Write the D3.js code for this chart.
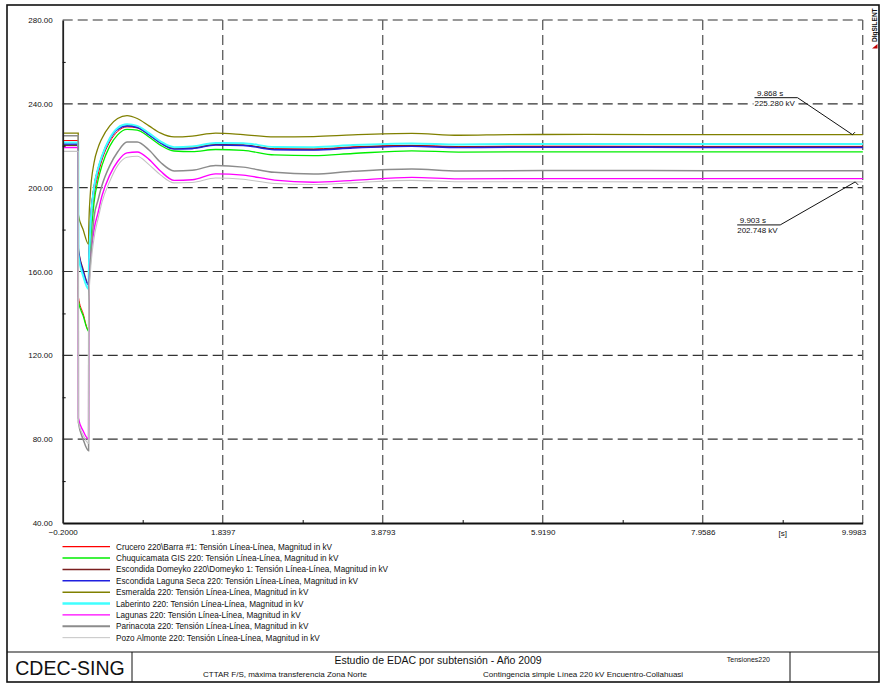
<!DOCTYPE html>
<html><head><meta charset="utf-8">
<script src="https://cdn.jsdelivr.net/npm/d3@7"></script>
<style>body{margin:0;background:#fff} svg{display:block} text{font-family:"Liberation Sans",Arial,sans-serif;fill:#111}</style>
</head><body><svg id="c" width="886" height="683"></svg>
<script>
// ---------------- data ----------------
const times = [-0.2, -0.002, 0.0, 0.06, 0.13, 0.132, 0.15, 0.2, 0.25, 0.3, 0.4, 0.5, 0.62, 0.75, 0.9, 1.05, 1.22, 1.45, 1.75, 2.1, 2.5, 3.0, 3.5, 4.25, 4.85, 5.5, 6.5, 8.0, 10.0];

const crucero     = [222.5,222.5,148,140,132,158,174,196,206,213,221.8,226.8,229,228.5,225.2,221.5,219,219.2,220.6,220.3,218.6,218.5,219.5,220.2,219.6,219.8,219.8,219.7,219.7];
const chuquicamata= [220.2,220.2,146,139,131.5,155,170,193,203.5,210.5,219.8,225.2,227.8,227.5,224.2,220.2,217.5,217.2,218.2,217.8,215.6,215.3,216.3,217.6,217.0,217.1,217.1,217.1,217.1];
const domeyko     = [220.3,220.3,171,161,154,161,181,200.5,209,215,223.3,228,229.6,228.9,225.4,221.4,218.7,218.9,220.6,220.4,218.4,218.2,219.2,220.0,219.4,219.6,219.6,219.5,219.5];
const lagunaSeca  = [220.8,220.8,170,160,153.5,160,180,200,208.5,214.5,223,227.8,229.4,228.7,225.2,221.2,218.4,218.6,220.3,220.1,218.1,217.9,218.9,219.7,219.1,219.3,219.3,219.2,219.2];
const esmeralda   = [226.0,226.0,187,180,173,180,196,212,219,223.5,229.5,233,234.4,233,229.5,226,224.2,224.6,226,225.3,224.2,224.4,225.2,225.9,225.0,225.3,225.4,225.3,225.28];
const laberinto   = [221.6,221.6,168,158,151.5,158,178,200,209,215,223.6,228.5,230.2,229.5,226,222,219.3,219.6,221.3,221.2,219.4,219.3,220.3,221.1,220.6,220.8,220.8,220.8,220.8];
const lagunas     = [219.2,219.2,90,84,80,150,163,180,188,196,206,212.5,216.6,217,213.5,207.8,203.5,203.8,206.6,206,203.6,202.6,203.5,204.9,204.2,204.3,204.3,204.3,204.3];
const parinacota  = [224.8,224.8,88,80,74.5,150,162,186,194,201,210.5,217,221.8,221.8,218,212,208,208.3,210.6,209.8,207.3,206.5,207.8,208.9,208.0,208.1,208.2,208.1,208.1];
const pozoAlmonte = [217.3,217.3,88,82,78,145,158,176,185,193,203,210.5,214.5,215,211,206,202.3,202.5,204.6,204,202,201.5,202.3,203.5,202.8,202.8,202.8,202.75,202.75];

const seriesNames = [
  "Crucero 220\\Barra #1: Tensión Línea-Línea, Magnitud in kV",
  "Chuquicamata GIS 220: Tensión Línea-Línea, Magnitud in kV",
  "Escondida Domeyko 220\\Domeyko 1: Tensión Línea-Línea, Magnitud in kV",
  "Escondida Laguna Seca 220: Tensión Línea-Línea, Magnitud in kV",
  "Esmeralda 220: Tensión Línea-Línea, Magnitud in kV",
  "Laberinto 220: Tensión Línea-Línea, Magnitud in kV",
  "Lagunas 220: Tensión Línea-Línea, Magnitud in kV",
  "Parinacota 220: Tensión Línea-Línea, Magnitud in kV",
  "Pozo Almonte 220: Tensión Línea-Línea, Magnitud in kV"
];
const seriesValues = [crucero, chuquicamata, domeyko, lagunaSeca, esmeralda, laberinto, lagunas, parinacota, pozoAlmonte];

const xTicks = [-0.2, 1.8397, 3.8793, 5.9190, 7.9586, 9.9983];
const yTicks = [40, 80, 120, 160, 200, 240, 280];
const yMinor = [60, 100, 140, 180, 220, 260];
const xUnit = "[s]";

const annotations = [
  {t: 9.868, v: 225.280, l1: "9.868 s", l2: "225.280 kV"},
  {t: 9.903, v: 202.748, l1: "9.903 s", l2: "202.748 kV"}
];

const footerTitle = "Estudio de EDAC por subtensión - Año 2009";
const footerLeft = "CDEC-SING";
const footerSub1 = "CTTAR F/S, máxima transferencia Zona Norte";
const footerSub2 = "Contingencia simple Línea 220 kV Encuentro-Collahuasi";
const footerRef = "Tensiones220";

// ---------------- styles ----------------
const colors = ["#ff0000","#00ee00","#7a1f1f","#1f1fe0","#808000","#40ffff","#ff00ff","#8c8c8c","#c4c4c4"];
const widths = [1, 1.3, 1.3, 1.4, 1.3, 2, 1.4, 1.5, 1.1];
const legendWidths = [1.2, 1.4, 1.4, 1.4, 1.4, 2.4, 1.4, 2, 1];

// ---------------- chart ----------------
const svg = d3.select("#c");
const L = 62.7, R = 862.7, T = 20, B = 523;
const x = d3.scaleLinear().domain([-0.2, 9.9983]).range([L, R]);
const y = d3.scaleLinear().domain([40, 280]).range([B, T]);

// outer frame
svg.append("rect").attr("x",7).attr("y",5).attr("width",872).attr("height",677)
  .attr("fill","none").attr("stroke","#111").attr("stroke-width",1.6);

// gridlines
svg.append("g").selectAll("line").data(yTicks.slice(1)).join("line")
  .attr("x1",L).attr("x2",R).attr("y1",d=>y(d)).attr("y2",d=>y(d))
  .attr("stroke","#333").attr("stroke-width",1.2).attr("stroke-dasharray","10,5");
svg.append("g").selectAll("line").data(xTicks.slice(1)).join("line")
  .attr("x1",d=>x(d)).attr("x2",d=>x(d)).attr("y1",T).attr("y2",B)
  .attr("stroke","#666").attr("stroke-width",1.4).attr("stroke-dasharray","10,5");

// series
svg.append("clipPath").attr("id","pc").append("rect")
  .attr("x",L).attr("y",T).attr("width",R-L+1).attr("height",B-T);
const line = d3.line().x((d,i)=>x(times[i])).y(d=>y(d)).curve(d3.curveMonotoneX);
svg.append("g").attr("clip-path","url(#pc)").selectAll("path").data(seriesValues).join("path")
  .attr("d", d=>line(d)).attr("fill","none")
  .attr("stroke",(d,i)=>colors[i]).attr("stroke-width",(d,i)=>widths[i]);

// axes
const xAxis = svg.append("g").attr("transform",`translate(0,${B})`)
  .call(d3.axisBottom(x).tickValues(xTicks).tickSize(0).tickPadding(6).tickFormat(d3.format(".4f")));
xAxis.select(".domain").attr("stroke","#111").attr("stroke-width",1.8);
xAxis.selectAll("text").attr("font-size",8).attr("font-family",'"Liberation Sans",Arial,sans-serif').attr("fill","#111");
xAxis.selectAll(".tick").filter(d=>d===xTicks[xTicks.length-1]).select("text").attr("text-anchor","end").attr("dx",3);
const xMinor = d3.pairs(xTicks).map(p=>(p[0]+p[1])/2);
svg.append("g").attr("transform",`translate(0,${B})`)
  .call(d3.axisTop(x).tickValues(xMinor).tickSize(3).tickFormat(""))
  .call(g=>g.select(".domain").remove())
  .selectAll("line").attr("stroke","#111").attr("stroke-width",1);
svg.append("text").attr("x",x(xMinor[xMinor.length-1])).attr("y",B+13).attr("text-anchor","middle")
  .attr("font-size",8).text(xUnit);

const yAxis = svg.append("g").attr("transform",`translate(${L},0)`)
  .call(d3.axisLeft(y).tickValues(yTicks).tickSize(0).tickPadding(10).tickFormat(d3.format(".2f")));
yAxis.select(".domain").attr("stroke","#222").attr("stroke-width",1.8);
yAxis.selectAll("text").attr("font-size",8).attr("font-family",'"Liberation Sans",Arial,sans-serif').attr("fill","#111");
svg.append("g").attr("transform",`translate(${L},0)`)
  .call(d3.axisRight(y).tickValues(yMinor).tickSize(3).tickFormat(""))
  .call(g=>g.select(".domain").remove())
  .selectAll("line").attr("stroke","#111").attr("stroke-width",1);

// annotations
const annLayout = [{dx:-55, dy:-37, w:43, hx:2.5, hy:-2.5}, {dx:-75, dy:43, w:43, hx:3, hy:3}];
annotations.forEach((a,i)=>{
  const px = x(a.t), py = y(a.v), o = annLayout[i];
  const ex = px + o.dx, ey = py + o.dy;
  const g = svg.append("g");
  g.append("rect").attr("x",ex-o.w-1).attr("y",ey-9).attr("width",o.w+2).attr("height",19).attr("fill","#fff");
  g.append("path").attr("d",`M${ex-o.w},${ey}H${ex}L${px},${py}l${o.hx},${o.hy}`)
    .attr("fill","none").attr("stroke","#111").attr("stroke-width",1);
  g.append("text").attr("x",ex-o.w+2.5).attr("y",ey-1.5).attr("font-size",8).text(a.l1);
  g.append("text").attr("x",ex-o.w).attr("y",ey+8.5).attr("font-size",8).text(a.l2);
});

// DIgSILENT mark
svg.append("text").attr("transform","translate(877.3,42) rotate(-90)").attr("font-size",6.5)
  .attr("font-weight","bold").text("DIgSILENT");
svg.append("path").attr("d","M872,48.5L877.5,44L877.5,48.5Z").attr("fill","#c00000");

// legend
const lg = svg.append("g").selectAll("g").data(seriesNames).join("g")
  .attr("transform",(d,i)=>`translate(0,${546.7 + i*11.37})`);
lg.append("line").attr("x1",62.5).attr("x2",110).attr("stroke",(d,i)=>colors[i]).attr("stroke-width",(d,i)=>legendWidths[i]);
lg.append("text").attr("x",116).attr("y",3).attr("font-size",8.2).text(d=>d);

// footer
svg.append("line").attr("x1",7).attr("x2",879).attr("y1",652).attr("y2",652).attr("stroke","#111").attr("stroke-width",1.2);
svg.append("line").attr("x1",132).attr("x2",132).attr("y1",652).attr("y2",682).attr("stroke","#111").attr("stroke-width",1);
svg.append("line").attr("x1",790).attr("x2",790).attr("y1",652).attr("y2",682).attr("stroke","#111").attr("stroke-width",1);
svg.append("text").attr("x",70).attr("y",675).attr("text-anchor","middle").attr("font-size",19.5).text(footerLeft);
svg.append("text").attr("x",438).attr("y",664).attr("text-anchor","middle").attr("font-size",10.5).text(footerTitle);
svg.append("text").attr("x",770).attr("y",662).attr("text-anchor","end").attr("font-size",7).text(footerRef);
svg.append("text").attr("x",203).attr("y",677).attr("font-size",8).text(footerSub1);
svg.append("text").attr("x",483).attr("y",677).attr("font-size",8).text(footerSub2);
</script></body></html>
